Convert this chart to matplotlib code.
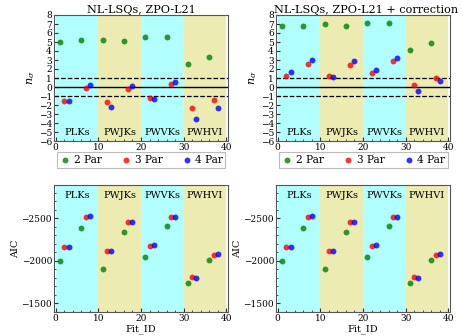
import matplotlib
matplotlib.use("Agg")
import matplotlib.pyplot as plt
from matplotlib.ticker import MultipleLocator
import numpy as np

plt.rcParams['font.family'] = ['DejaVu Serif']
plt.rcParams['mathtext.fontset'] = 'dejavuserif'

fit_2par = [1, 6, 11, 16, 21, 26, 31, 36]
fit_3par = [2, 7, 12, 17, 22, 27, 32, 37]
fit_4par = [3, 8, 13, 18, 23, 28, 33, 38]

# n_sigma, ZPO-L21
ns_left_2 = [5.02, 5.17, 5.24, 5.13, 5.54, 5.61, 2.60, 3.35]
ns_left_3 = [-1.56, -0.08, -1.71, -0.22, -1.26, 0.33, -2.34, -1.49]
ns_left_4 = [-1.60, 0.26, -2.19, 0.07, -1.34, 0.56, -3.60, -2.34]

# n_sigma, ZPO-L21 + correction
ns_right_2 = [6.73, 6.77, 6.95, 6.77, 7.14, 7.14, 4.16, 4.87]
ns_right_3 = [1.26, 2.60, 1.19, 2.45, 1.52, 2.90, 0.19, 1.00]
ns_right_4 = [1.64, 3.05, 1.12, 2.90, 1.86, 3.27, -0.48, 0.67]

# AIC
aic_2 = [-2000, -2381, -1909, -2333, -2044, -2409, -1742, -2012]
aic_3 = [-2167, -2512, -2111, -2456, -2179, -2512, -1806, -2071]
aic_4 = [-2167, -2528, -2111, -2456, -2183, -2512, -1802, -2079]

groups = ['PLKs', 'PWJKs', 'PWVKs', 'PWHVI']
group_edges = [0, 10, 20, 30, 40]
span_colors = ['cyan', 'y', 'cyan', 'y']

titles = ['NL-LSQs, ZPO-L21', 'NL-LSQs, ZPO-L21 + correction']

W, H = 463, 336
fig = plt.figure(figsize=(W / 100, H / 100), dpi=100)

def rect(x0, y0, x1, y1):
    return [x0 / W, 1 - y1 / H, (x1 - x0) / W, (y1 - y0) / H]

ax_tl = fig.add_axes(rect(54, 15, 228, 141))
ax_tr = fig.add_axes(rect(276, 15, 450, 141))
ax_bl = fig.add_axes(rect(54, 185, 228, 312))
ax_br = fig.add_axes(rect(276, 185, 450, 312))

def base(ax):
    for i in range(4):
        ax.axvspan(group_edges[i], group_edges[i + 1], color=span_colors[i], alpha=0.3, lw=0)
    ax.set_xlim(-0.4, 40.4)
    ax.xaxis.set_major_locator(MultipleLocator(10))
    ax.xaxis.set_minor_locator(MultipleLocator(2))
    ax.tick_params(direction='in', which='both', labelsize=6.5, pad=1.5, color='#333333')
    ax.tick_params(which='major', length=3)
    ax.tick_params(which='minor', length=1.5)
    for s in ax.spines.values():
        s.set_color('#555555')

def points(ax, y2, y3, y4):
    kw = dict(s=18, alpha=0.8, lw=0, zorder=3)
    ax.scatter(fit_2par, y2, color='green', label='2 Par', **kw)
    ax.scatter(fit_3par, y3, color='red', label='3 Par', **kw)
    ax.scatter(fit_4par, y4, color='blue', label='4 Par', **kw)

for ax, title, tx, (a, b, c) in [(ax_tl, titles[0], 0.5, (ns_left_2, ns_left_3, ns_left_4)),
                                 (ax_tr, titles[1], 0.52, (ns_right_2, ns_right_3, ns_right_4))]:
    base(ax)
    ax.axhline(0, color='black', lw=1.0, zorder=2)
    ax.axhline(1, color='black', lw=0.9, ls='--', zorder=2)
    ax.axhline(-1, color='black', lw=0.9, ls='--', zorder=2)
    points(ax, a, b, c)
    ax.set_ylim(-6, 8)
    ax.yaxis.set_major_locator(MultipleLocator(1))
    ax.set_title(title, fontsize=8.1, pad=1.5, x=tx)
    ax.set_ylabel(r'$n_\sigma$', fontsize=8, labelpad=1)
    for i, g in enumerate(groups):
        ax.text(group_edges[i] + 5, -5.1, g, ha='center', va='center', fontsize=7)
    leg = ax.legend(loc='upper center', bbox_to_anchor=(0.5, -0.09), ncol=3,
                    fontsize=7.6, frameon=True, fancybox=False, handletextpad=0.2,
                    columnspacing=1.7, handlelength=1.2, borderpad=0.25,
                    borderaxespad=0)
    leg.get_frame().set_edgecolor('#aaaaaa')
    leg.get_frame().set_linewidth(0.8)

for ax in [ax_bl, ax_br]:
    base(ax)
    points(ax, aic_2, aic_3, aic_4)
    ax.set_ylim(-1400, -2890)
    ax.yaxis.set_major_locator(MultipleLocator(500))
    ax.yaxis.set_minor_locator(MultipleLocator(100))
    ax.set_ylabel('AIC', fontsize=7, labelpad=1)
    ax.set_xlabel('Fit_ID', fontsize=7, labelpad=1)
    for i, g in enumerate(groups):
        ax.text(group_edges[i] + 5, -2770, g, ha='center', va='center', fontsize=7)

fig.savefig('out.png', dpi=100)
